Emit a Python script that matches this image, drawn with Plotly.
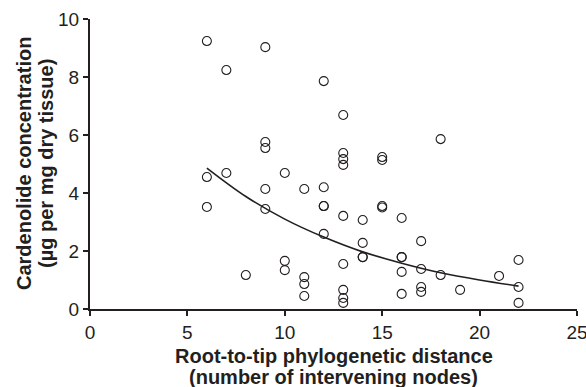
import plotly.graph_objects as go

# Observed data (root-to-tip distance, cardenolide concentration)
dist = [6, 6, 6, 7, 7, 8, 9, 9, 9, 9, 9,
        10, 10, 10, 11, 11, 11, 11,
        12, 12, 12, 12, 12,
        13, 13, 13, 13, 13, 13, 13, 13, 13,
        14, 14, 14, 14,
        15, 15, 15, 15,
        16, 16, 16, 16, 16,
        17, 17, 17, 17,
        18, 18, 19, 21, 22, 22, 22]
conc = [9.24, 4.55, 3.52, 8.24, 4.69, 1.17, 9.03, 5.76, 5.55, 4.14, 3.45,
        4.69, 1.66, 1.34, 4.14, 1.10, 0.86, 0.45,
        7.86, 4.20, 3.55, 2.59, 3.55,
        6.69, 5.38, 5.17, 4.97, 3.21, 1.55, 0.66, 0.38, 0.21,
        3.07, 2.28, 1.79, 1.79,
        5.24, 5.14, 3.55, 3.50,
        3.14, 1.79, 1.28, 0.52, 1.79,
        2.34, 1.38, 0.76, 0.59,
        5.86, 1.17, 0.66, 1.14, 1.69, 0.76, 0.21]

# Fitted trend line
fit_x = [6, 8, 10, 12, 14, 16, 18, 20, 22]
fit_y = [4.86, 3.88, 3.10, 2.48, 1.97, 1.58, 1.25, 1.00, 0.79]

x_ticks = [0, 5, 10, 15, 20, 25]
y_ticks = [0, 2, 4, 6, 8, 10]

x_title = ["Root-to-tip phylogenetic distance", "(number of intervening nodes)"]
y_title = ["Cardenolide concentration", "(µg per mg dry tissue)"]

ink = "#231f20"
font = "Liberation Sans, Arial, sans-serif"
W, H = 586, 387

fig = go.Figure()
fig.add_trace(go.Scatter(x=fit_x, y=fit_y, mode="lines", line=dict(color=ink, width=1.6, shape="spline"),
                         hoverinfo="skip", showlegend=False))
fig.add_trace(go.Scatter(x=dist, y=conc, mode="markers",
                         marker=dict(symbol="circle-open", size=9, color=ink, line=dict(width=1.1, color=ink)),
                         showlegend=False))

axis_common = dict(showgrid=False, zeroline=False, showline=True, linecolor=ink, linewidth=2,
                   ticks="outside", ticklen=5, tickwidth=2, tickcolor=ink, automargin=False,
                   ticklabeloverflow="allow",
                   tickfont=dict(family=font, size=19, color=ink))

fig.update_xaxes(range=[0, 25.001], tickvals=x_ticks, **axis_common)
fig.update_yaxes(range=[0, 10.001], tickvals=y_ticks, **axis_common)

title_font = dict(family=font, size=20, color=ink)
annotations = []
for i, (txt, cy) in enumerate(zip(x_title, [356, 377])):
    annotations.append(dict(text="<b>%s</b>" % txt, xref="paper", yref="paper",
                            x=0.5, y=-(cy - 309) / 290.0, xanchor="center", yanchor="middle",
                            showarrow=False, font=title_font))
for i, (txt, cx) in enumerate(zip(y_title, [24, 46])):
    annotations.append(dict(text="<b>%s</b>" % txt, xref="paper", yref="paper",
                            x=-(90 - cx) / 487.0, y=0.5, xanchor="center", yanchor="middle",
                            textangle=-90, showarrow=False, font=title_font))

fig.update_layout(width=W, height=H, margin=dict(l=90, r=9, t=19, b=78),
                  plot_bgcolor="white", paper_bgcolor="white", annotations=annotations)

fig.write_html("out.html")
